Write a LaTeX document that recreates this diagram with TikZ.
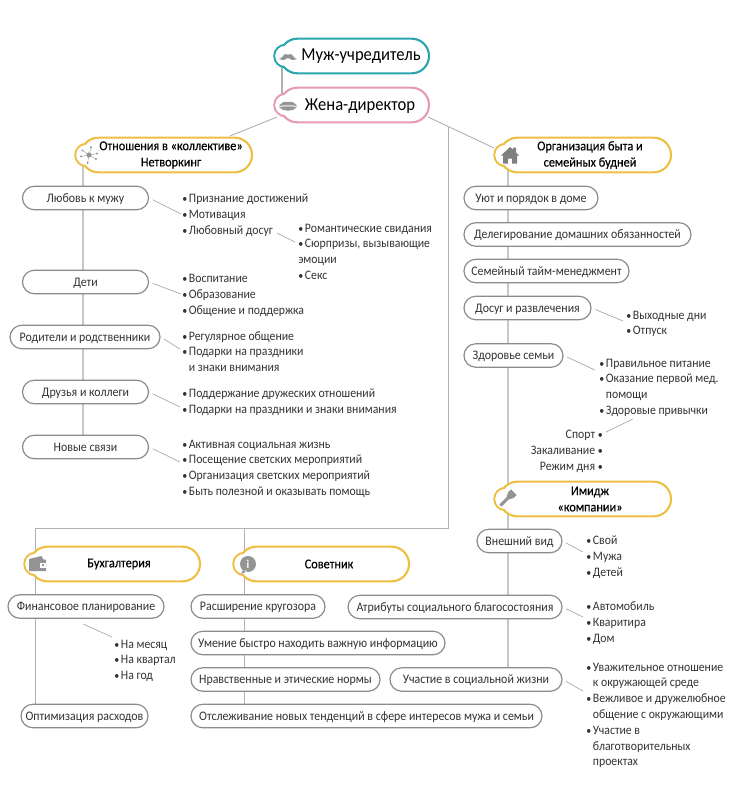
\documentclass[tikz,border=0pt]{standalone}
\usepackage{fontspec}
\setmainfont{Carlito}[FakeStretch=0.91]
\newfontfamily\headfont{Carlito}[FakeBold=0.3,FakeStretch=0.91]
\usetikzlibrary{shapes.misc,backgrounds}
\definecolor{teal}{HTML}{2AA7AD}
\definecolor{rose}{HTML}{E59AB8}
\definecolor{amber}{HTML}{EDBF45}
\definecolor{textgrey}{HTML}{333333}
\tikzset{
	x=0.75pt,y=-0.75pt,
	pill/.style={rounded rectangle,draw=black!45,line width=0.9pt,fill=white,inner sep=0pt,
		minimum height=17.6pt,minimum width=0.75pt*#1,text height=7.5pt,text depth=1.5pt,text=textgrey,font=\fontsize{9.8}{11.85}\selectfont},
	headbody/.style={rounded rectangle,draw=#1,line width=1.6pt,fill=white,inner sep=0pt,minimum height=26pt},
	bump/.style={circle,draw=#1,line width=1.6pt,inner sep=0pt,minimum size=16.8pt},
	bumpin/.style={circle,fill=white,inner sep=0pt,minimum size=15.2pt},
	headtext/.style={align=center,text=black,font=\headfont\fontsize{10.1}{12.2}\selectfont},
	bigtext/.style={text=black,font=\fontsize{13.7}{16}\selectfont},
	items/.style={anchor=north west,align=left,inner sep=0pt,text=textgrey,font=\fontsize{9.7}{11.85}\selectfont},
	trunk/.style={draw=black!22,line width=1.3pt},
	branch/.style={draw=black!30,line width=0.7pt},
	leader/.style={draw=black!35,line width=0.5pt,shorten <=3pt},
	icon/.style={fill=black!42,draw=none},
}
\newcommand{\itm}{\makebox[5pt][l]{\scalebox{.85}{•}}}
\newcommand{\cnt}{\hspace*{5pt}}
% name, colour, left edge, centre y, width
\newcommand{\headbox}[5]{%
	\pgfmathsetmacro{\bx}{#3+11.5}
	\pgfmathsetmacro{\px}{#3+5+(#5-5)/2}
	\node[bump=#2] (#1b) at (\bx,#4) {};
	\node[headbody=#2,minimum width=0.75pt*(#5-7)] (#1) at (\px,#4) {};
	\node[bumpin] at (\bx,#4) {};
}

\begin{document}
\begin{tikzpicture}
	\useasboundingbox (0,0) rectangle (746,807);

	\headbox{mush}{teal}{274}{56}{156}
	\headbox{wife}{rose}{274}{105}{156}
	\headbox{netw}{amber}{75}{155}{178}
	\headbox{home}{amber}{494}{155}{178}
	\headbox{image}{amber}{494}{499}{178}
	\headbox{books}{amber}{24}{564}{177}
	\headbox{advis}{amber}{233}{564}{177}

	\node[bigtext] (musht) at (361,56) {Муж-учредитель};
	\node[bigtext] (wifet) at (360,106) {Жена-директор};
	\node[headtext] (netwt) at (171,155) {Отношения в «коллективе»\\Нетворкинг};
	\node[headtext] (homet) at (590,155) {Организация быта и\\семейных будней};
	\node[headtext] (imaget) at (590,499) {Имидж\\«компании»};
	\node[headtext] (bookst) at (119,564) {Бухгалтерия};
	\node[headtext] (advist) at (329,564) {Советник};

	% left column
	\node[pill=126] (love) at (85.5,198) {Любовь к мужу};
	\node[pill=126] (kids) at (85.5,282) {Дети};
	\node[pill=150] (kin) at (85,337) {Родители и родственники};
	\node[pill=126] (pals) at (85.5,392) {Друзья и коллеги};
	\node[pill=126] (newc) at (85.5,447) {Новые связи};

	\node[items] (lovei) at (182,193.5) {\itm Признание достижений\\\itm Мотивация\\\itm Любовный досуг};
	\node[items] (leisi) at (298,223.5) {\itm Романтические свидания\\\itm Сюрпризы, вызывающие\\эмоции\\\itm Секс};
	\node[items] (kidsi) at (182,274) {\itm Воспитание\\\itm Образование\\\itm Общение и поддержка};
	\node[items] (kini) at (182,331) {\itm Регулярное общение\\\itm Подарки на праздники\\\cnt и знаки внимания};
	\node[items] (palsi) at (182,388.5) {\itm Поддержание дружеских отношений\\\itm Подарки на праздники и знаки внимания};
	\node[items] (newci) at (182,439.5) {\itm Активная социальная жизнь\\\itm Посещение светских мероприятий\\\itm Организация светских мероприятий\\\itm Быть полезной и оказывать помощь};

	% right column
	\node[pill=134] (cosy) at (531,198) {Уют и порядок в доме};
	\node[pill=227] (deleg) at (577.5,234.5) {Делегирование домашних обязанностей};
	\node[pill=165] (tmgr) at (546.5,271) {Семейный тайм-менеджмент};
	\node[pill=127] (fun) at (527.5,308) {Досуг и развлечения};
	\node[pill=99] (heal) at (513.5,355.5) {Здоровье семьи};

	\node[items] (funi) at (626,310.5) {\itm Выходные дни\\\itm Отпуск};
	\node[items] (heali) at (599,358.5) {\itm Правильное питание\\\itm Оказание первой мед.\\\cnt помощи\\\itm Здоровые привычки};
	\node[items,anchor=north east,align=right] (habi) at (603,430) {Спорт \scalebox{.85}{•}\\Закаливание \scalebox{.85}{•}\\Режим дня \scalebox{.85}{•}};

	% bottom row
	\node[pill=85] (look) at (519.5,541) {Внешний вид};
	\node[pill=214] (attr) at (455,607) {Атрибуты социального благосостояния};
	\node[pill=172] (soc) at (476,679.5) {Участие в социальной жизни};
	\node[pill=156] (plan) at (86,606.5) {Финансовое планирование};
	\node[pill=127] (cuts) at (84.5,716) {Оптимизация расходов};
	\node[pill=134] (wide) at (258,606.5) {Расширение кругозора};
	\node[pill=254] (fast) at (318,643) {Умение быстро находить важную информацию};
	\node[pill=189] (moral) at (285.5,679.5) {Нравственные и этические нормы};
	\node[pill=351] (trend) at (366.5,716) {Отслеживание новых тенденций в сфере интересов мужа и семьи};

	\node[items] (planI) at (114,639.5) {\itm На месяц\\\itm На квартал\\\itm На год};
	\node[items] (looki) at (586,535.5) {\itm Свой\\\itm Мужа\\\itm Детей};
	\node[items] (attri) at (586,601.5) {\itm Автомобиль\\\itm Кваритира\\\itm Дом};
	\node[items] (soci) at (586,662.5) {\itm Уважительное отношение\\\cnt к окружающей среде\\\itm Вежливое и дружелюбное\\\cnt общение с окружающими\\\itm Участие в\\\cnt благотворительных\\\cnt проектах};

	% free ends
	\coordinate (wifeL) at (277,117);
	\coordinate (netwT) at (230,136);
	\coordinate (wifeR) at (428,117);
	\coordinate (homeL) at (494,148);
	\coordinate (joint) at (448,127);
	\coordinate (rail) at (448,528);
	\coordinate (lovee) at (181,214);
	\coordinate (leiss) at (277,233);
	\coordinate (leise) at (295,242);
	\coordinate (kidse) at (181,294);
	\coordinate (kine) at (180,349);
	\coordinate (palse) at (180,407);
	\coordinate (newce) at (180,462);
	\coordinate (fune) at (623,321);
	\coordinate (heale) at (595,370);
	\coordinate (habs) at (633,419);
	\coordinate (habe) at (606,432);
	\coordinate (lookfrom) at (83,624);
	\coordinate (plane) at (112,637);
	\coordinate (looke) at (583,552);
	\coordinate (attre) at (583,617);
	\coordinate (soce) at (583,691);

	\begin{scope}[on background layer]
		\draw[branch,line width=1.1pt] ([xshift=-2.6pt]mushb.center)--([xshift=-2.6pt]wifeb.center);
		\draw[branch] (wifeL)--(netwT);
		\draw[branch] (wifeR)--(homeL);
		\draw[branch] (joint)--(rail)-|(booksb.center);
		\draw[branch] (rail-|advisb.center)--(advisb.center);
		\draw[branch] (booksb.center)--(cuts.north-|booksb.center);
		\draw[branch] (advisb.center)--(trend.north-|advisb.center);
		\draw[trunk] ([xshift=-2.6pt]netwb.center)--([xshift=-2.6pt]netwb.center|-newc.north);
		\draw[trunk] ([xshift=1.9pt]homeb.center)--([xshift=1.9pt]imageb.center);
		\draw[trunk] ([xshift=1.9pt]imageb.center)--([xshift=1.9pt]imageb.center|-soc.north);
	\end{scope}

	\draw[leader] (love.east)--(lovee);
	\draw[leader,shorten <=0pt] (leiss)--(leise);
	\draw[leader] (kids.east)--(kidse);
	\draw[leader] (kin.east)--(kine);
	\draw[leader] (pals.east)--(palse);
	\draw[leader] (newc.east)--(newce);
	\draw[leader] (fun.east)--(fune);
	\draw[leader] (heal.east)--(heale);
	\draw[leader,shorten <=0pt] (habs)--(habe);
	\draw[leader,shorten <=0pt] (lookfrom)--(plane);
	\draw[leader] (look.east)--(looke);
	\draw[leader] (attr.east)--(attre);
	\draw[leader] (soc.east)--(soce);

	% icons
	\fill[icon,shift={(288,57)}] (-9,2) .. controls (-6,2) and (-5,-3) .. (-2,-3) .. controls (-1,-3) and (0,-2) .. (0,-2) .. controls (0,-2) and (1,-3) .. (2,-3) .. controls (5,-3) and (6,2) .. (9,2) .. controls (5,3.5) and (2,3) .. (0,1) .. controls (-2,3) and (-5,3.5) .. (-9,2) -- cycle;
	\fill[icon,shift={(288,106)}] (-9,0) .. controls (-5,-5) and (-2,-5) .. (0,-4) .. controls (2,-5) and (5,-5) .. (9,0) .. controls (4,-1) and (-4,-1) .. (-9,0) -- cycle
		(-9,1) .. controls (-4,0) and (4,0) .. (9,1) .. controls (5,6) and (-5,6) .. (-9,1) -- cycle;
	\foreach \a in {30,100,170,215,285,350}{
		\draw[black!35,line width=0.35pt,shift={(89,155)}] (0,0)--(\a:8);
		\fill[icon,shift={(89,155)}] (\a:8) circle (1.1);
	}
	\fill[icon] (89,155) circle (2.6);
	\fill[black!50,shift={(510,155.5)}] (-9,0)--(0,-8.5)--(3,-6)--(3,-8)--(6,-8)--(6,-3)--(9,0)--(7,0)--(7,8)--(2,8)--(2,3)--(-2,3)--(-2,8)--(-7,8)--(-7,0)--cycle;
	\fill[icon,shift={(507.5,498.5)},rotate=-45] (-1.5,10) rectangle (1.5,0) (-1.5,0)--(1.5,0)--(4,-5)--(-4,-5)--cycle (-4,-5) rectangle (4,-9);
	\fill[icon,shift={(37.5,564)}] (-8.5,-5)--(4,-8)--(6,-4.5)--(8.5,-4.5)--(8.5,7)--(-8.5,7)--cycle;
	\fill[white] (40,562.5) rectangle (46,568);
	\fill[icon] (43,565) circle (1.3);
	\fill[icon] (248,564) circle (8) (243,570)--(241,574)--(248,571)--cycle;
	\node[inner sep=0pt,text=white,font=\bfseries\fontsize{9}{9}\selectfont] (infoi) at (248,564) {i};
\end{tikzpicture}
\end{document}
